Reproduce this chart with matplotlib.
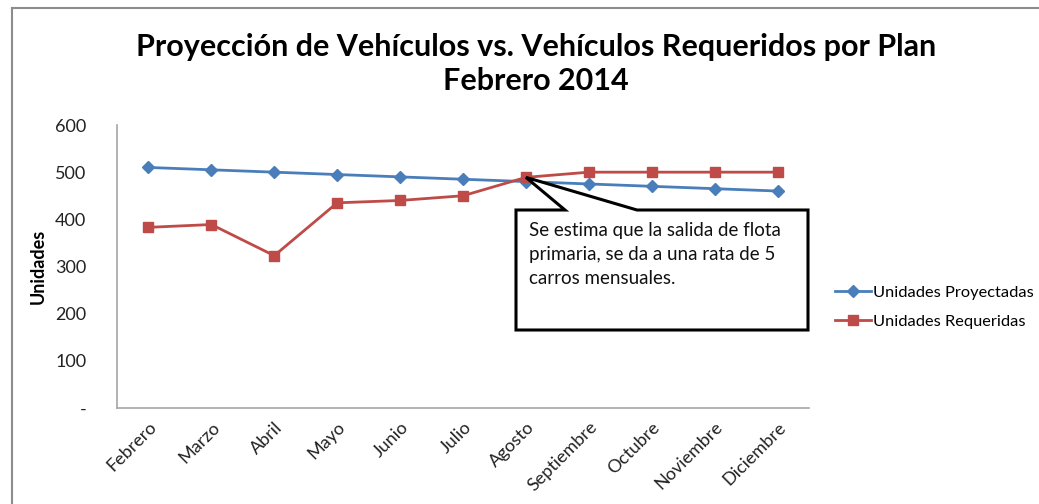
import numpy as np
import matplotlib.pyplot as plt
from matplotlib.patches import Polygon
from matplotlib.lines import Line2D

plt.rcParams['font.family'] = ['Lato', 'DejaVu Sans']

meses = ['Febrero', 'Marzo', 'Abril', 'Mayo', 'Junio', 'Julio', 'Agosto',
         'Septiembre', 'Octubre', 'Noviembre', 'Diciembre']
proyectadas = [510, 505, 500, 495, 490, 485, 480, 475, 470, 465, 460]
requeridas = [383, 389, 323, 435, 440, 450, 489, 500, 500, 500, 500]

W, H = 1039, 504
fig = plt.figure(figsize=(W / 100, H / 100), dpi=100)

# plot area in pixels: left 117, right 809, top 125, bottom 408
ax = fig.add_axes([117 / W, 1 - 408 / H, (809 - 117) / W, (408 - 125) / H])
x = np.arange(len(meses))

ax.plot(x, proyectadas, color='#4a7ebb', lw=2, marker='D', ms=6,
        label='Unidades Proyectadas')
ax.plot(x, requeridas, color='#be4b48', lw=2, marker='s', ms=7.5,
        label='Unidades Requeridas')

ax.set_xlim(-0.5, len(meses) - 0.5)
ax.set_ylim(0, 600)
ax.set_yticks(range(0, 601, 100))
ax.set_yticklabels(['-', '100', '200', '300', '400', '500', '600'])
ax.set_xticks(x)
ax.set_xticklabels(meses, rotation=45, ha='right', rotation_mode='anchor')
ax.tick_params(axis='both', length=0, labelsize=13, colors='#222222')
ax.tick_params(axis='y', pad=22)
ax.tick_params(axis='x', pad=8)
for s in ['top', 'right']:
    ax.spines[s].set_visible(False)
for s in ['left', 'bottom']:
    ax.spines[s].set_color('#a6a6a6')
    ax.spines[s].set_linewidth(1.2)

ax.set_ylabel('Unidades', fontsize=13, fontweight='bold', labelpad=6)

fig.text(536 / W, 1 - 64 / H,
         'Proyección de Vehículos vs. Vehículos Requeridos por Plan\nFebrero 2014',
         ha='center', va='center', fontsize=22, fontweight='bold',
         linespacing=1.3)

# callout box pointing at Agosto
tip = ax.transData.transform((6, requeridas[6]))
tip = (tip[0] / W, tip[1] / H)
bx0, bx1, by0, by1 = 516 / W, 808 / W, 1 - 330 / H, 1 - 210 / H
callout = Polygon([(bx0, by1), (565 / W, by1), tip, (637 / W, by1), (bx1, by1),
                   (bx1, by0), (bx0, by0)], closed=True,
                  transform=fig.transFigure, facecolor='white',
                  edgecolor='black', lw=2.2, zorder=5)
fig.patches.append(callout)
fig.text(529 / W, 1 - 222 / H,
         'Se estima que la salida de flota\nprimaria, se da a una rata de 5\ncarros mensuales.',
         ha='left', va='top', fontsize=13.5, linespacing=1.5, zorder=6,
         color='#111111')

handles, labels = ax.get_legend_handles_labels()
fig.legend(handles, labels, loc='center left',
           bbox_to_anchor=(835 / W, 1 - 307 / H), frameon=False,
           fontsize=11.8, handlelength=2.2, handletextpad=0.1,
           labelspacing=0.9, borderaxespad=0, borderpad=0)

# chart border (top and left visible)
fig.add_artist(Line2D([12 / W, 1], [1 - 8 / H, 1 - 8 / H],
                      transform=fig.transFigure, color='#8c8c8c', lw=1.5))
fig.add_artist(Line2D([12 / W, 12 / W], [1 - 8 / H, 0],
                      transform=fig.transFigure, color='#8c8c8c', lw=1.5))

fig.savefig('out.png', dpi=100)
